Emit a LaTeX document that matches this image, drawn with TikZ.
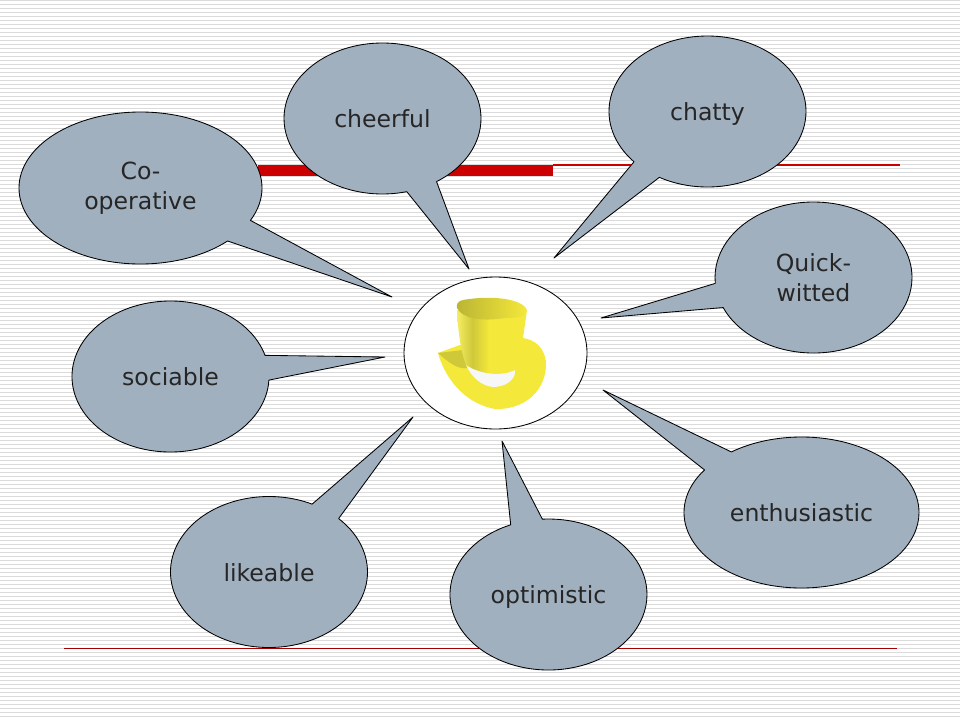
\documentclass[tikz,border=0pt]{standalone}
\usepackage{fontspec}
\setmainfont{DejaVu Sans}
\usetikzlibrary{shapes.geometric,shapes.callouts}
\definecolor{bubble}{HTML}{A1B0BF}
\definecolor{barred}{HTML}{CC0000}
\definecolor{hatyellow}{HTML}{F4E83A}
\definecolor{hatdark}{HTML}{CFC93A}
\pgfdeclarehorizontalshading{hatbody}{100bp}{color(0bp)=(hatyellow);color(25bp)=(hatyellow!80!white);color(36bp)=(hatdark);color(48bp)=(hatyellow);color(100bp)=(hatyellow)}
\pgfdeclarehorizontalshading{hattop}{100bp}{color(0bp)=(hatdark);color(25bp)=(hatdark!90!black);color(75bp)=(hatyellow);color(100bp)=(hatyellow)}
\begin{document}
\begin{tikzpicture}[x=1pt,y=-1pt]
\tikzstyle{bubble}=[ellipse callout,draw=black,fill=bubble,line width=0.85pt,line join=round,inner sep=0pt,
  minimum width=197pt,minimum height=151pt,callout pointer arc=19,align=center,
  text=black!85,font=\fontsize{23.6pt}{30pt}\selectfont]
\tikzstyle{oneline}=[text height=20pt,text depth=2pt]
\useasboundingbox (0,0) rectangle (960,720);
\fill[white] (0,0) rectangle (960,720);
% stripes
\foreach \y in {0,4,...,716}
  \fill[black!14] (0,\y+0.1) rectangle (960,\y+1.3);
% title rules
\fill[barred] (258,164.7) rectangle (553,176);
\fill[barred] (553,164.3) rectangle (900,165.9);
\fill[barred!80!black] (64,648) rectangle (897,649.2);
% hat
\node[ellipse,draw=black,fill=white,line width=0.85pt,minimum width=183pt,minimum height=152pt,inner sep=0pt] (hub) at (495.5,353) {};
\fill[hatyellow] (438,353) .. controls (444,375) and (462,403) .. (495,409)
  .. controls (525,410) and (547,390) .. (546,362) .. controls (544,347) and (535,340) .. (523,338)
  -- (460,345) -- cycle;
\fill[hatdark] (438,353) -- (463,350) -- (468,368) .. controls (458,370) and (448,362) .. (438,353) -- cycle;
\fill[white!94!gray] (466,365) .. controls (480,372) and (495,375) .. (515,370)
  .. controls (516,380) and (505,387) .. (493,387) .. controls (482,386) and (472,378) .. (466,365) -- cycle;
\shade[shading=hatbody]
  (457,310) .. controls (458,335) and (462,355) .. (466,365)
  .. controls (480,374) and (500,377) .. (515,370) -- (523,338) -- (527,310) -- cycle;
\shade[shading=hattop] (457,308) .. controls (456,300) and (462,300) .. (470,299)
  .. controls (490,296) and (522,298) .. (527,310) .. controls (525,318) and (515,318) .. (505,318)
  .. controls (480,322) and (462,318) .. (457,308) -- cycle;
% bubbles
\node[bubble,minimum width=243pt,minimum height=152pt,callout absolute pointer={(392,297)}] (cooperative) at (140.5,188) {Co-\\operative};
\node[bubble,oneline,callout absolute pointer={(469,269)}] (cheerful) at (382.5,118.5) {cheerful};
\node[bubble,oneline,callout absolute pointer={(554,258)}] (chatty) at (707.5,111.5) {chatty};
\node[bubble,callout absolute pointer={(601,318)}] (quick) at (813.5,277.5) {Quick-\\witted};
\node[bubble,oneline,callout absolute pointer={(385,357)}] (sociable) at (170.5,376.5) {sociable};
\node[bubble,oneline,callout absolute pointer={(413,417)}] (likeable) at (269,572) {likeable};
\node[bubble,oneline,callout absolute pointer={(502,441)}] (optimistic) at (548.5,594.5) {optimistic};
\node[bubble,oneline,minimum width=235pt,callout absolute pointer={(603,390)}] (enthusiastic) at (801.5,512.5) {enthusiastic};
\end{tikzpicture}
\end{document}
